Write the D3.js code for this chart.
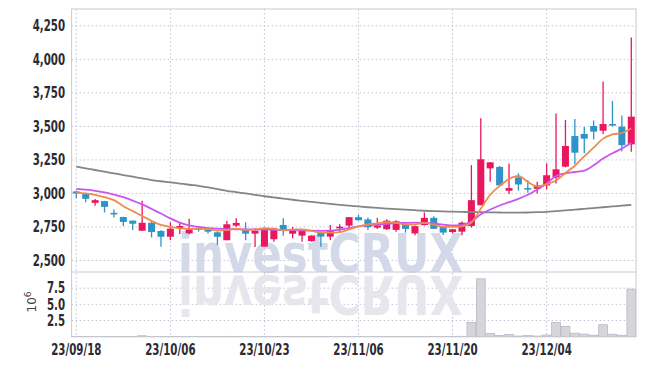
<!DOCTYPE html>
<html>
<head>
<meta charset="utf-8">
<title>Price chart</title>
<script src="https://cdnjs.cloudflare.com/ajax/libs/d3/7.8.5/d3.min.js"></script>
<style>
    body { margin: 0; background: #fff; }
    .axis text { font-family: "DejaVu Sans Condensed", "DejaVu Sans", sans-serif; font-size: 15px; font-weight: bold; fill: #2b2b33; }
    .axis .domain { display: none; }
</style>
</head>
<body>
<div id="chart"></div>
<script>
    // daily candles, 23/09/18 .. 23/12/15
    var dates = ["23/09/18","23/09/19","23/09/20","23/09/21","23/09/22","23/09/25","23/09/26","23/09/27",
        "23/10/04","23/10/05","23/10/06","23/10/10","23/10/11","23/10/12","23/10/13","23/10/16","23/10/17",
        "23/10/18","23/10/19","23/10/20","23/10/23","23/10/24","23/10/25","23/10/26","23/10/27","23/10/30",
        "23/10/31","23/11/01","23/11/02","23/11/03","23/11/06","23/11/07","23/11/08","23/11/09","23/11/10",
        "23/11/13","23/11/14","23/11/15","23/11/16","23/11/17","23/11/20","23/11/21","23/11/22","23/11/23",
        "23/11/24","23/11/27","23/11/28","23/11/29","23/11/30","23/12/01","23/12/04","23/12/05","23/12/06",
        "23/12/07","23/12/08","23/12/11","23/12/12","23/12/13","23/12/14","23/12/15"];

    var open = [3015,2995,2930,2943,2855,2824,2797,2722,2781,2720,2677,2740,2702,2740,2732,2710,2651,2760,2730,2700,
        2603,2658,2765,2700,2685,2645,2710,2678,2740,2760,2823,2806,2745,2733,2728,2771,2702,2764,2818,2752,
        2712,2715,2757,2912,3187,3198,3020,3120,3040,3035,3060,3120,3200,3428,3444,3503,3468,3518,3498,3366];
    var high = [3020,2998,2958,2945,2880,2826,2799,2945,2796,2725,2784,2784,2811,2757,2734,2715,2795,2815,2785,2740,
        2745,2745,2815,2750,2722,2688,2715,2765,2770,2825,2840,2821,2819,2808,2800,2775,2760,2857,2830,2755,
        2736,2790,3211,3561,3235,3205,3224,3150,3099,3088,3224,3597,3548,3556,3495,3545,3835,3690,3582,4164];
    var low = [2965,2935,2908,2858,2820,2757,2728,2720,2672,2603,2652,2697,2695,2715,2702,2615,2651,2750,2651,2601,
        2603,2640,2685,2666,2640,2640,2603,2653,2715,2740,2798,2728,2735,2730,2715,2708,2688,2760,2734,2690,
        2705,2688,2745,2912,3088,3058,2996,3021,3005,3000,3030,3075,3195,3220,3299,3403,3443,3500,3314,3311];
    var close = [3000,2960,2950,2900,2850,2787,2774,2781,2712,2677,2737,2757,2732,2735,2715,2677,2770,2780,2700,2720,
        2740,2740,2725,2733,2720,2685,2678,2720,2752,2823,2800,2748,2762,2797,2792,2736,2756,2818,2736,2708,
        2733,2782,2950,3255,3232,3060,3040,3067,3036,3060,3136,3180,3354,3304,3409,3461,3518,3506,3360,3573];

    // volume, millions of shares
    var volume = [0.04,0.03,0.03,0.04,0.03,0.03,0.04,0.15,0.05,0.04,0.04,0.03,0.04,0.03,0.03,0.03,0.05,0.04,0.03,0.03,
        0.05,0.04,0.04,0.03,0.03,0.03,0.03,0.04,0.03,0.05,0.04,0.03,0.03,0.04,0.04,0.03,0.03,0.05,0.04,0.03,
        0.03,0.06,2.2,8.95,0.5,0.2,0.35,0.1,0.2,0.1,0.25,2.2,1.6,0.55,0.4,0.22,1.85,0.38,0.22,7.35];

    // moving averages
    var maShort = [3006,3000,2990,2972,2950,2905,2868,2832,2795,2765,2750,2740,2736,2735,2735,2723,2726,2735,2728,2729,
        2742,2736,2725,2732,2732,2721,2708,2707,2711,2732,2755,2769,2777,2786,2780,2767,2769,2780,2768,2751,
        2750,2755,2782,2886,2990,3056,3107,3131,3087,3053,3068,3096,3153,3207,3277,3342,3409,3440,3451,3484];
    var maMid = [3034,3028,3020,3008,2992,2972,2947,2918,2885,2850,2814,2783,2762,2750,2742,2737,2734,2733,2732,2731,
        2730,2729,2728,2726,2724,2722,2721,2722,2730,2742,2755,2762,2768,2773,2778,2780,2782,2781,2776,2768,
        2762,2766,2790,2845,2880,2910,2935,2960,2990,3030,3075,3130,3150,3160,3170,3210,3260,3300,3335,3379];
    var maLong = [3200,3187,3175,3162,3150,3137,3125,3112,3100,3091,3083,3074,3065,3057,3045,3033,3020,3010,3000,2990,
        2979,2970,2962,2953,2945,2937,2930,2922,2915,2909,2903,2897,2892,2887,2883,2879,2875,2871,2868,2866,
        2864,2862,2861,2860,2859,2858,2857,2857,2858,2860,2863,2868,2873,2879,2885,2891,2897,2903,2909,2915];

    var priceTicks = [2500,2750,3000,3250,3500,3750,4000,4250];
    var volTicks = [2.5,5.0,7.5];
    var dateTicks = [0,10,20,30,40,50];

    (function() {
        var W = 645, H = 366;
        var pl = 71.6, pr = 636, pt = 9, split = 272, pb = 336.7;

        var svg = d3.select("#chart").append("svg")
            .attr("width", W)
            .attr("height", H);

        var x = d3.scaleBand().domain(d3.range(close.length)).range([pl, pr]);
        var cx = function(i) { return x(i) + x.bandwidth() / 2; };
        var y = d3.scaleLinear().domain([2414, 4376]).range([split, pt]);
        var yv = d3.scaleLinear().domain([0, 10]).range([pb, split]);

        var up = "#e8185f", down = "#2e93c6", gridColor = "#bfc3d6";

        // grid
        var grid = svg.append("g").attr("stroke", gridColor).attr("stroke-dasharray", "1.5,2.5");
        grid.selectAll(".hp").data(priceTicks).enter().append("line")
            .attr("x1", pl).attr("x2", pr)
            .attr("y1", function(d) { return y(d); }).attr("y2", function(d) { return y(d); });
        grid.selectAll(".hv").data(volTicks).enter().append("line")
            .attr("x1", pl).attr("x2", pr)
            .attr("y1", function(d) { return yv(d); }).attr("y2", function(d) { return yv(d); });
        grid.selectAll(".vv").data(dateTicks).enter().append("line")
            .attr("x1", function(d) { return cx(d); }).attr("x2", function(d) { return cx(d); })
            .attr("y1", pt).attr("y2", pb);

        // watermark + reflection
        svg.append("clipPath").attr("id", "volClip").append("rect")
            .attr("x", pl).attr("y", split + 1).attr("width", pr - pl).attr("height", pb - split - 1);
        function mark(sel, fill) {
            return sel.append("text")
                .attr("x", 178).attr("y", split)
                .attr("textLength", 285).attr("lengthAdjust", "spacingAndGlyphs")
                .attr("font-family", "DejaVu Sans Condensed, DejaVu Sans, sans-serif")
                .attr("font-weight", "bold").attr("font-size", "54px")
                .attr("fill", fill)
                .text("investCRUX");
        }
        mark(svg, "#d3d9e8");
        mark(svg.append("g").attr("clip-path", "url(#volClip)"), "#e6e6ec")
            .attr("transform", "translate(0," + (2 * split + 4) + ") scale(1,-1)");

        // volume bars
        svg.append("g").selectAll("rect").data(volume).enter().append("rect")
            .attr("x", function(d, i) { return x(i) + 0.3; })
            .attr("width", x.bandwidth() - 0.6)
            .attr("y", function(d) { return yv(d); })
            .attr("height", function(d) { return pb - yv(d); })
            .attr("fill", "#d5d5db")
            .attr("stroke", "#b9b9c2")
            .attr("stroke-width", 0.8);

        // candles
        var bw = 7;
        var candles = svg.append("g").selectAll("g").data(close).enter().append("g");
        candles.append("line")
            .attr("x1", function(d, i) { return cx(i); }).attr("x2", function(d, i) { return cx(i); })
            .attr("y1", function(d, i) { return y(high[i]); })
            .attr("y2", function(d, i) { return y(low[i]); })
            .attr("stroke", function(d, i) { return d >= open[i] ? up : down; })
            .attr("stroke-width", 1.3);
        candles.append("rect")
            .attr("x", function(d, i) { return cx(i) - bw / 2; })
            .attr("width", bw)
            .attr("y", function(d, i) { return y(Math.max(d, open[i])); })
            .attr("height", function(d, i) { return Math.max(1.5, Math.abs(y(d) - y(open[i]))); })
            .attr("fill", function(d, i) { return d >= open[i] ? up : down; });

        // moving averages
        var line = d3.line()
            .x(function(d, i) { return cx(i); })
            .y(function(d) { return y(d); })
            .curve(d3.curveMonotoneX);
        svg.append("path").datum(maLong).attr("d", line)
            .attr("fill", "none").attr("stroke", "#858585").attr("stroke-width", 1.8);
        svg.append("path").datum(maMid).attr("d", line)
            .attr("fill", "none").attr("stroke", "#cc55ee").attr("stroke-width", 1.8);
        svg.append("path").datum(maShort).attr("d", line)
            .attr("fill", "none").attr("stroke", "#ef8a50").attr("stroke-width", 1.8);

        // frame
        var frame = svg.append("g").attr("stroke", "#c9c9d2").attr("fill", "none");
        frame.append("rect").attr("x", pl).attr("y", pt).attr("width", pr - pl).attr("height", pb - pt);
        frame.append("line").attr("x1", pl).attr("x2", pr).attr("y1", split).attr("y2", split);

        // axes
        svg.append("g").attr("class", "axis")
            .attr("transform", "translate(" + pl + ",0)")
            .call(d3.axisLeft(y).tickValues(priceTicks).tickSize(0).tickPadding(6.5).tickFormat(d3.format(",")));
        svg.append("g").attr("class", "axis")
            .attr("transform", "translate(" + pl + ",0)")
            .call(d3.axisLeft(yv).tickValues(volTicks).tickSize(0).tickPadding(6.5).tickFormat(d3.format(".1f")));
        svg.append("g").attr("class", "axis")
            .attr("transform", "translate(0," + pb + ")")
            .call(d3.axisBottom(x).tickValues(dateTicks).tickSize(0).tickPadding(7.5)
                .tickFormat(function(i) { return dates[i]; }));

        // squeeze the condensed font a bit more, like the narrow face in the original
        svg.selectAll(".axis text").each(function() {
            var w = this.getComputedTextLength();
            d3.select(this).attr("textLength", w * 0.76).attr("lengthAdjust", "spacingAndGlyphs");
        });

        var unit = svg.append("text")
            .attr("transform", "translate(36,302) rotate(-90)")
            .attr("text-anchor", "middle")
            .attr("font-family", "DejaVu Sans, sans-serif")
            .attr("font-size", "12px")
            .attr("fill", "#444");
        unit.append("tspan").text("10");
        unit.append("tspan").attr("dy", -5).attr("font-size", "9px").text("6");
    })();
</script>
</body>
</html>
